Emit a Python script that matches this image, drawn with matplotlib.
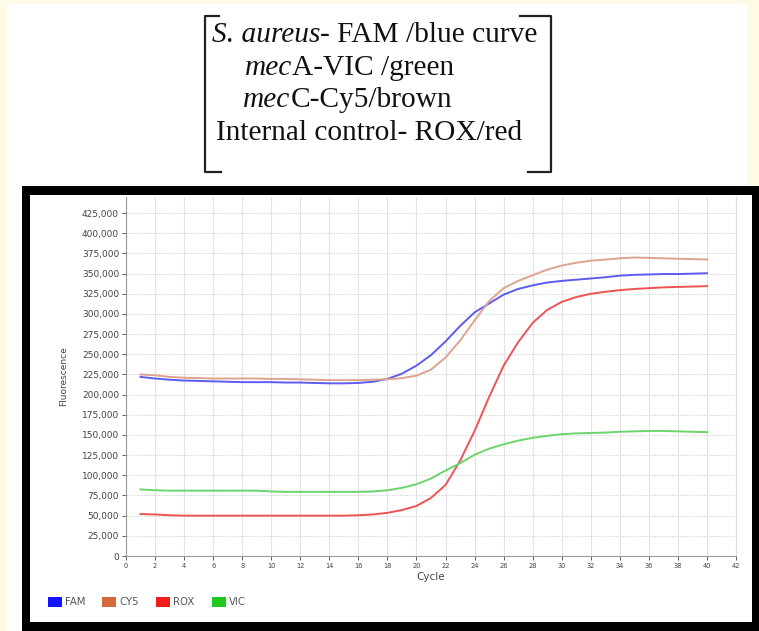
import numpy as np
import matplotlib
matplotlib.use('Agg')
import matplotlib.pyplot as plt
from matplotlib.patches import Rectangle
from matplotlib.lines import Line2D

# 数据
cycles = list(range(1, 41))
fam = [222000, 220000, 218500, 217500, 217000, 216500, 216000, 215500, 215500, 215500,
       215000, 215000, 214500, 214000, 214000, 214500, 216000, 219500, 226000, 236000,
       249000, 266000, 285000, 302000, 313000, 324000, 331000, 335500, 339000, 341000,
       342500, 344000, 345500, 347500, 348500, 349000, 349500, 349500, 350000, 350500]
cy5 = [225000, 224000, 222000, 221000, 220500, 220000, 220000, 220000, 220000, 219500,
       219500, 219000, 218500, 218000, 218000, 218000, 218500, 219000, 220500, 223500,
       231000, 246000, 267000, 292000, 316000, 332000, 341000, 348000, 355000, 360000,
       363500, 366000, 367500, 369000, 370000, 369500, 369000, 368500, 368000, 367500]
rox = [52000, 51500, 50500, 50000, 50000, 50000, 50000, 50000, 50000, 50000,
       50000, 50000, 50000, 50000, 50000, 50500, 51500, 53500, 57000, 62000,
       72000, 88000, 118000, 155000, 197000, 236000, 265000, 289000, 305000, 315000,
       321000, 325000, 327500, 329500, 331000, 332000, 333000, 333500, 334000, 334500]
vic = [82500, 81500, 81000, 81000, 81000, 81000, 81000, 81000, 81000, 80000,
       79500, 79500, 79500, 79500, 79500, 79500, 80000, 81500, 84500, 89000,
       96000, 106000, 115000, 125500, 133000, 138500, 143000, 146500, 149000, 151000,
       152000, 152500, 153000, 154000, 154500, 155000, 155000, 154500, 154000, 153500]

series_names = ['FAM', 'CY5', 'ROX', 'VIC']
line_colors = ['#5c5cf0', '#dca48e', '#ec5454', '#6cd46c']
legend_colors = ['#1414ff', '#d4693c', '#f21c1c', '#22c822']

header_lines = [
    ('S. aureus', '- FAM /blue curve'),
    ('mec', 'A-VIC /green'),
    ('mec', 'C-Cy5/brown'),
    ('', 'Internal control- ROX/red'),
]

W, H = 759, 631


def fx(x):
    return x / W


def fy(y):
    return 1 - y / H


fig = plt.figure(figsize=(W / 100, H / 100), dpi=100, facecolor='#fefae6')

# 白色底
fig.patches.append(Rectangle((fx(7), 0), fx(747) - fx(7), fy(4), transform=fig.transFigure,
                             facecolor='white', edgecolor='none', zorder=0))

# 标题文字
serif = 'Liberation Serif'
fsz = 21.2
xs = [212, 245, 243, 216]
ys = [42, 75, 107, 140]
for (it, rest), x0, y0 in zip(header_lines, xs, ys):
    if it:
        t1 = fig.text(fx(x0), fy(y0), it, family=serif, style='italic', fontsize=fsz,
                      va='baseline', ha='left', color='#111111')
        fig.add_artist(plt.Annotation(rest, xy=(1, 0), xycoords=t1, va='bottom', ha='left',
                                      family=serif, fontsize=fsz, color='#111111'))
    else:
        fig.text(fx(x0), fy(y0), rest, family=serif, fontsize=fsz,
                 va='baseline', ha='left', color='#111111')

# 括号
bk = dict(color='#222222', lw=1.6, transform=fig.transFigure)
fig.add_artist(Line2D([fx(219), fx(205), fx(205), fx(221)],
                      [fy(16), fy(16), fy(172), fy(172)], **bk))
fig.add_artist(Line2D([fx(520), fx(551), fx(551), fx(528)],
                      [fy(16), fy(16), fy(172), fy(172)], **bk))

# 黑框
fig.patches.append(Rectangle((fx(22), 0), fx(759) - fx(22), fy(186), transform=fig.transFigure,
                             facecolor='black', edgecolor='none', zorder=1))
fig.patches.append(Rectangle((fx(30), fy(622)), fx(752) - fx(30), fy(195) - fy(622),
                             transform=fig.transFigure, facecolor='white',
                             edgecolor='none', zorder=2))

ax = fig.add_axes([fx(126), fy(556), fx(736) - fx(126), fy(197) - fy(556)])
ax.set_zorder(3)
ax.set_facecolor('white')

for vals, c in zip([fam, cy5, rox, vic], line_colors):
    ax.plot(cycles, vals, color=c, lw=1.4, zorder=3)

ax.set_xlim(0, 42)
ax.set_ylim(0, 445000)
ax.set_xticks(range(0, 43, 2))
ax.set_yticks(range(0, 425001, 25000))
ax.set_yticklabels(['{:,}'.format(v) for v in range(0, 425001, 25000)])
ax.tick_params(axis='y', labelsize=6.5, colors='#444444', length=3, width=0.6, pad=2)
ax.tick_params(axis='x', labelsize=4.8, colors='#444444', length=3, width=0.6, pad=2)
ax.xaxis.grid(True, color='#e4e4e4', lw=0.8)
ax.yaxis.grid(True, color='#d4d4d4', lw=0.7, ls=(0, (1.5, 1.5)))
ax.set_axisbelow(True)
ax.spines['top'].set_visible(False)
ax.spines['right'].set_color('#dddddd')
ax.spines['left'].set_color('#999999')
ax.spines['bottom'].set_color('#999999')
ax.set_xlabel('Cycle', fontsize=7.5, color='#444444', labelpad=2)
ax.set_ylabel('Fluorescence', fontsize=6.5, color='#444444', labelpad=10)

# 图例
leg_x = [48, 102, 156, 212]
for name, c, x0 in zip(series_names, legend_colors, leg_x):
    fig.patches.append(Rectangle((fx(x0), fy(607)), fx(14), fy(597) - fy(607),
                                 transform=fig.transFigure, facecolor=c,
                                 edgecolor='none', zorder=4))
    fig.text(fx(x0 + 17), fy(602), name, fontsize=7.3, color='#555555',
             va='center', ha='left', zorder=5)

fig.savefig('out.png', dpi=100, facecolor=fig.get_facecolor())
